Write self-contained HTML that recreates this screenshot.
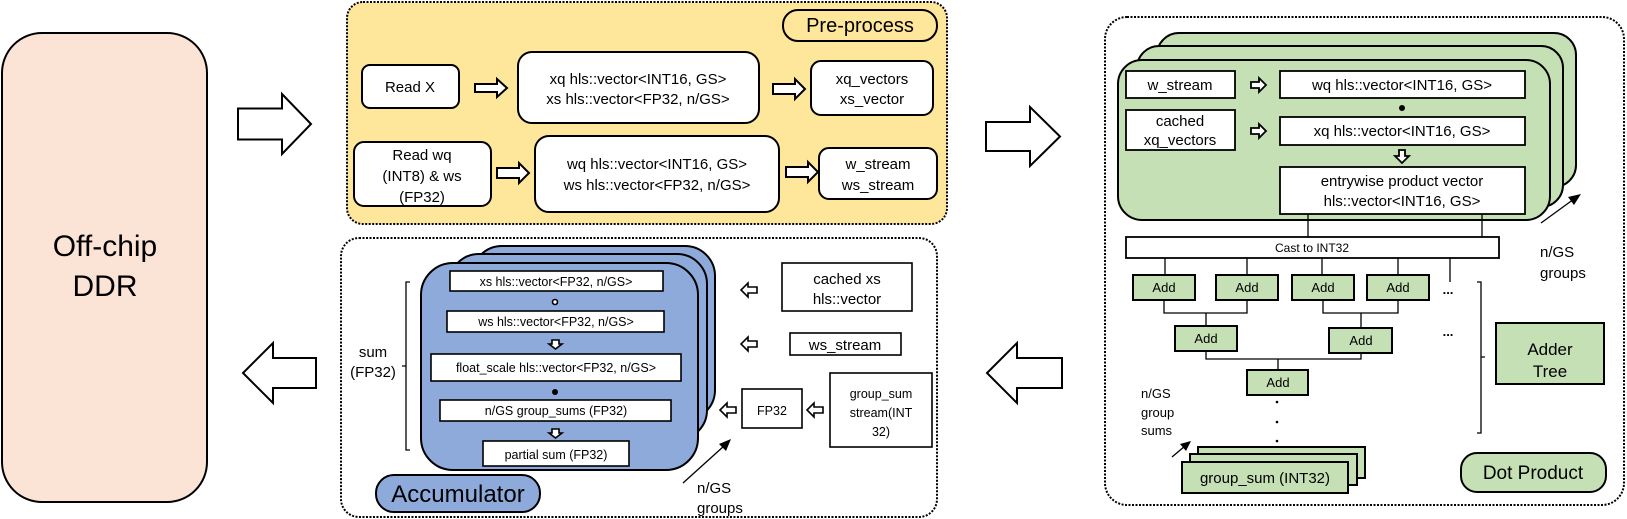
<!DOCTYPE html>
<html><head><meta charset="utf-8"><style>
html,body{margin:0;padding:0;background:#fff;}
svg{display:block;}
text{font-family:"Liberation Sans",sans-serif;fill:#000;}
</style></head><body>
<svg width="1627" height="519" viewBox="0 0 1627 519" xmlns="http://www.w3.org/2000/svg">
<g stroke="#000" stroke-width="2">
<!-- DDR -->
<rect x="2" y="33" width="205" height="469" rx="40" fill="#fbe3d6"/>
<!-- big arrows -->
<polygon points="238,108.5 282,108.5 282,94 311,124 282,154 282,139.5 238,139.5" fill="#fff"/>
<polygon points="316,358 273,358 273,343 243,373 273,403 273,388 316,388" fill="#fff"/>
<polygon points="986,122 1030,122 1030,107 1060,136.5 1030,166 1030,151 986,151" fill="#fff"/>
<polygon points="1062,358 1017,358 1017,343 987,373 1017,403 1017,388 1062,388" fill="#fff"/>
</g>
<text x="105" y="256" font-size="30" text-anchor="middle">Off-chip</text>
<text x="105" y="296" font-size="30" text-anchor="middle">DDR</text>

<!-- Pre-process -->
<rect x="347" y="2" width="600" height="222" rx="16" fill="#fee69b" stroke="#000" stroke-width="2" stroke-dasharray="2,1.5"/>
<g stroke="#000" stroke-width="2" fill="#fff">
<rect x="783" y="10" width="154" height="31" rx="15" fill="#fee69b"/>
<rect x="362" y="65" width="97" height="43" rx="8"/>
<rect x="518" y="52" width="241" height="71" rx="14"/>
<rect x="811" y="61" width="122" height="54" rx="10"/>
<rect x="354" y="142" width="137" height="64" rx="10"/>
<rect x="535" y="136" width="244" height="76" rx="14"/>
<rect x="819" y="148" width="118" height="51" rx="10"/>
<polygon points="475,84 497,84 497,79 507,88 497,97 497,92 475,92"/>
<polygon points="773,84 795,84 795,79 805,89 795,99 795,94 773,94"/>
<polygon points="497,168 519,168 519,163 529,173 519,183 519,178 497,178"/>
<polygon points="786,167 808,167 808,162 818,172 808,182 808,177 786,177"/>
</g>
<g font-size="15" text-anchor="middle">
<text x="860" y="32" font-size="20">Pre-process</text>
<text x="410" y="92">Read X</text>
<text x="638" y="84">xq hls::vector&lt;INT16, GS&gt;</text>
<text x="638" y="104">xs hls::vector&lt;FP32, n/GS&gt;</text>
<text x="872" y="84">xq_vectors</text>
<text x="872" y="104">xs_vector</text>
<text x="422" y="160">Read wq</text>
<text x="422" y="181">(INT8) &amp; ws</text>
<text x="422" y="202">(FP32)</text>
<text x="657" y="169">wq hls::vector&lt;INT16, GS&gt;</text>
<text x="657" y="190">ws hls::vector&lt;FP32, n/GS&gt;</text>
<text x="878" y="169">w_stream</text>
<text x="878" y="190">ws_stream</text>
</g>

<!-- Accumulator -->
<rect x="341" y="238" width="596" height="279" rx="18" fill="#fff" stroke="#000" stroke-width="2" stroke-dasharray="2,1.5"/>
<g stroke="#000" stroke-width="2">
<rect x="472" y="246" width="243" height="174" rx="30" fill="#8eaadb"/>
<rect x="449" y="254" width="258" height="186" rx="30" fill="#8eaadb"/>
<rect x="421" y="263" width="277" height="207" rx="32" fill="#8eaadb"/>
<rect x="376" y="475" width="164" height="37" rx="18" fill="#8eaadb"/>
</g>
<g stroke="#000" stroke-width="1.6" fill="#fff">
<rect x="450" y="271" width="213" height="20"/>
<rect x="447" y="311" width="217" height="21"/>
<rect x="431" y="354" width="250" height="27"/>
<rect x="440" y="400" width="231" height="21"/>
<rect x="483" y="441" width="146" height="25"/>
<rect x="782" y="263" width="130" height="48"/>
<rect x="790" y="333" width="111" height="22"/>
<rect x="742" y="389" width="60" height="39"/>
<rect x="830" y="373" width="102" height="74"/>
<circle cx="555" cy="302" r="2.5"/>
<polygon points="552,340 559,340 559,344 562,344 555.5,349 549,344 552,344"/>
<polygon points="552,429 559,429 559,433 562,433 555.5,438 549,433 552,433"/>
<polygon points="757,287 748,287 748,283 741,290 748,297 748,293 757,293"/>
<polygon points="757,341 748,341 748,337 741,344 748,351 748,347 757,347"/>
<polygon points="736,407 727,407 727,403 720,410 727,417 727,413 736,413"/>
<polygon points="823,407 814,407 814,403 807,410 814,417 814,413 823,413"/>
</g>
<circle cx="555" cy="392" r="3" fill="#000"/>
<path d="M410,282 H406 V450 H410 M406,366 H402" stroke="#000" stroke-width="1.3" fill="none"/>
<line x1="683" y1="483" x2="724" y2="446" stroke="#000" stroke-width="1.3"/>
<polygon points="731,439 719,444 726,451" fill="#000"/>
<g font-size="12.5" text-anchor="middle">
<text x="556" y="286">xs hls::vector&lt;FP32, n/GS&gt;</text>
<text x="556" y="326">ws hls::vector&lt;FP32, n/GS&gt;</text>
<text x="556" y="372">float_scale hls::vector&lt;FP32, n/GS&gt;</text>
<text x="556" y="415">n/GS group_sums (FP32)</text>
<text x="556" y="459">partial sum (FP32)</text>
<text x="772" y="415">FP32</text>
<text x="881" y="398">group_sum</text>
<text x="881" y="417">stream(INT</text>
<text x="881" y="436">32)</text>
</g>
<g font-size="15" text-anchor="middle">
<text x="373" y="357">sum</text>
<text x="373" y="377">(FP32)</text>
<text x="847" y="284">cached xs</text>
<text x="847" y="304">hls::vector</text>
<text x="845" y="350">ws_stream</text>
<text x="697" y="493" text-anchor="start" x-fix="">n/GS</text>
<text x="697" y="513" text-anchor="start">groups</text>
<text x="458" y="502" font-size="24">Accumulator</text>
</g>

<!-- Dot product -->
<rect x="1105" y="17" width="519" height="488" rx="22" fill="#fff" stroke="#000" stroke-width="2" stroke-dasharray="2,1.5"/>
<g stroke="#000" stroke-width="2" fill="#c5e0b4">
<rect x="1157" y="33" width="419" height="154" rx="22"/>
<rect x="1137" y="46" width="426" height="161" rx="22"/>
<rect x="1118" y="60" width="432" height="160" rx="24"/>
<rect x="1198" y="447" width="167" height="31"/>
<rect x="1190" y="454" width="167" height="31"/>
<rect x="1182" y="462" width="166" height="31"/>
<rect x="1496" y="323" width="108" height="61"/>
<rect x="1461" y="453" width="145" height="39" rx="16"/>
<rect x="1133" y="275" width="62" height="25"/>
<rect x="1216" y="275" width="62" height="25"/>
<rect x="1292" y="275" width="62" height="25"/>
<rect x="1367" y="275" width="62" height="25"/>
<rect x="1175" y="326" width="62" height="25"/>
<rect x="1329" y="328" width="63" height="25"/>
<rect x="1247" y="370" width="61" height="25"/>
</g>
<g stroke="#000" stroke-width="1.3" fill="none">
<path d="M1308,214 V237 M1482,214 V237"/>
<path d="M1165,258 V275 M1247,258 V275 M1322,258 V275 M1398,258 V275 M1450,258 V282"/>
<path d="M1164,300 V313 H1247 V300 M1206,313 V326"/>
<path d="M1323,300 V313 H1398 V300 M1361,313 V328"/>
<path d="M1206,351 V359 H1361 V353 M1278,359 V370"/>
<path d="M1477,282 H1481 V433 H1477 M1481,357 H1485"/>
<line x1="1541" y1="223" x2="1574" y2="199"/>
<line x1="1172" y1="457" x2="1185" y2="446"/>
</g>
<polygon points="1581,194 1568,197 1574,205" fill="#000"/>
<polygon points="1191,441 1180,444 1186,451" fill="#000"/>
<g stroke="#000" stroke-width="1.8" fill="#fff">
<rect x="1126" y="71" width="109" height="27"/>
<rect x="1280" y="71" width="245" height="27"/>
<rect x="1126" y="110" width="109" height="40"/>
<rect x="1280" y="117" width="245" height="28"/>
<rect x="1280" y="167" width="245" height="47"/>
<rect x="1126" y="237" width="373" height="21"/>
<polygon points="1251,82 1259,82 1259,78 1266,85 1259,92 1259,88 1251,88"/>
<polygon points="1251,128 1259,128 1259,124 1266,131 1259,138 1259,134 1251,134"/>
<polygon points="1399,150 1405,150 1405,156 1409,156 1402,163 1395,156 1399,156"/>
</g>
<circle cx="1402" cy="108" r="3" fill="#000"/>
<g fill="#000"><circle cx="1277" cy="402" r="1.3"/><circle cx="1277" cy="422" r="1.3"/><circle cx="1277" cy="441" r="1.3"/></g>
<g font-size="15" text-anchor="middle">
<text x="1180" y="90">w_stream</text>
<text x="1402" y="90">wq hls::vector&lt;INT16, GS&gt;</text>
<text x="1180" y="126">cached</text>
<text x="1180" y="145">xq_vectors</text>
<text x="1402" y="136">xq hls::vector&lt;INT16, GS&gt;</text>
<text x="1402" y="186">entrywise product vector</text>
<text x="1402" y="206">hls::vector&lt;INT16, GS&gt;</text>
<text x="1312" y="252" font-size="12">Cast to INT32</text>
<g font-size="13"><text x="1164" y="292">Add</text><text x="1247" y="292">Add</text><text x="1323" y="292">Add</text><text x="1398" y="292">Add</text><text x="1206" y="343">Add</text><text x="1361" y="345">Add</text><text x="1278" y="387">Add</text></g>
<text x="1448" y="294" font-size="13" font-weight="bold">...</text>
<text x="1448" y="336" font-size="13" font-weight="bold">...</text>
<text x="1265" y="483">group_sum (INT32)</text>
<text x="1550" y="355" font-size="17">Adder</text>
<text x="1550" y="377" font-size="17">Tree</text>
<text x="1533" y="479" font-size="19">Dot Product</text>
<text x="1540" y="257" text-anchor="start">n/GS</text>
<text x="1540" y="278" text-anchor="start">groups</text>
<text x="1141" y="398" text-anchor="start" font-size="13">n/GS</text>
<text x="1141" y="417" text-anchor="start" font-size="13">group</text>
<text x="1141" y="435" text-anchor="start" font-size="13">sums</text>
</g>
</svg>
</body></html>
